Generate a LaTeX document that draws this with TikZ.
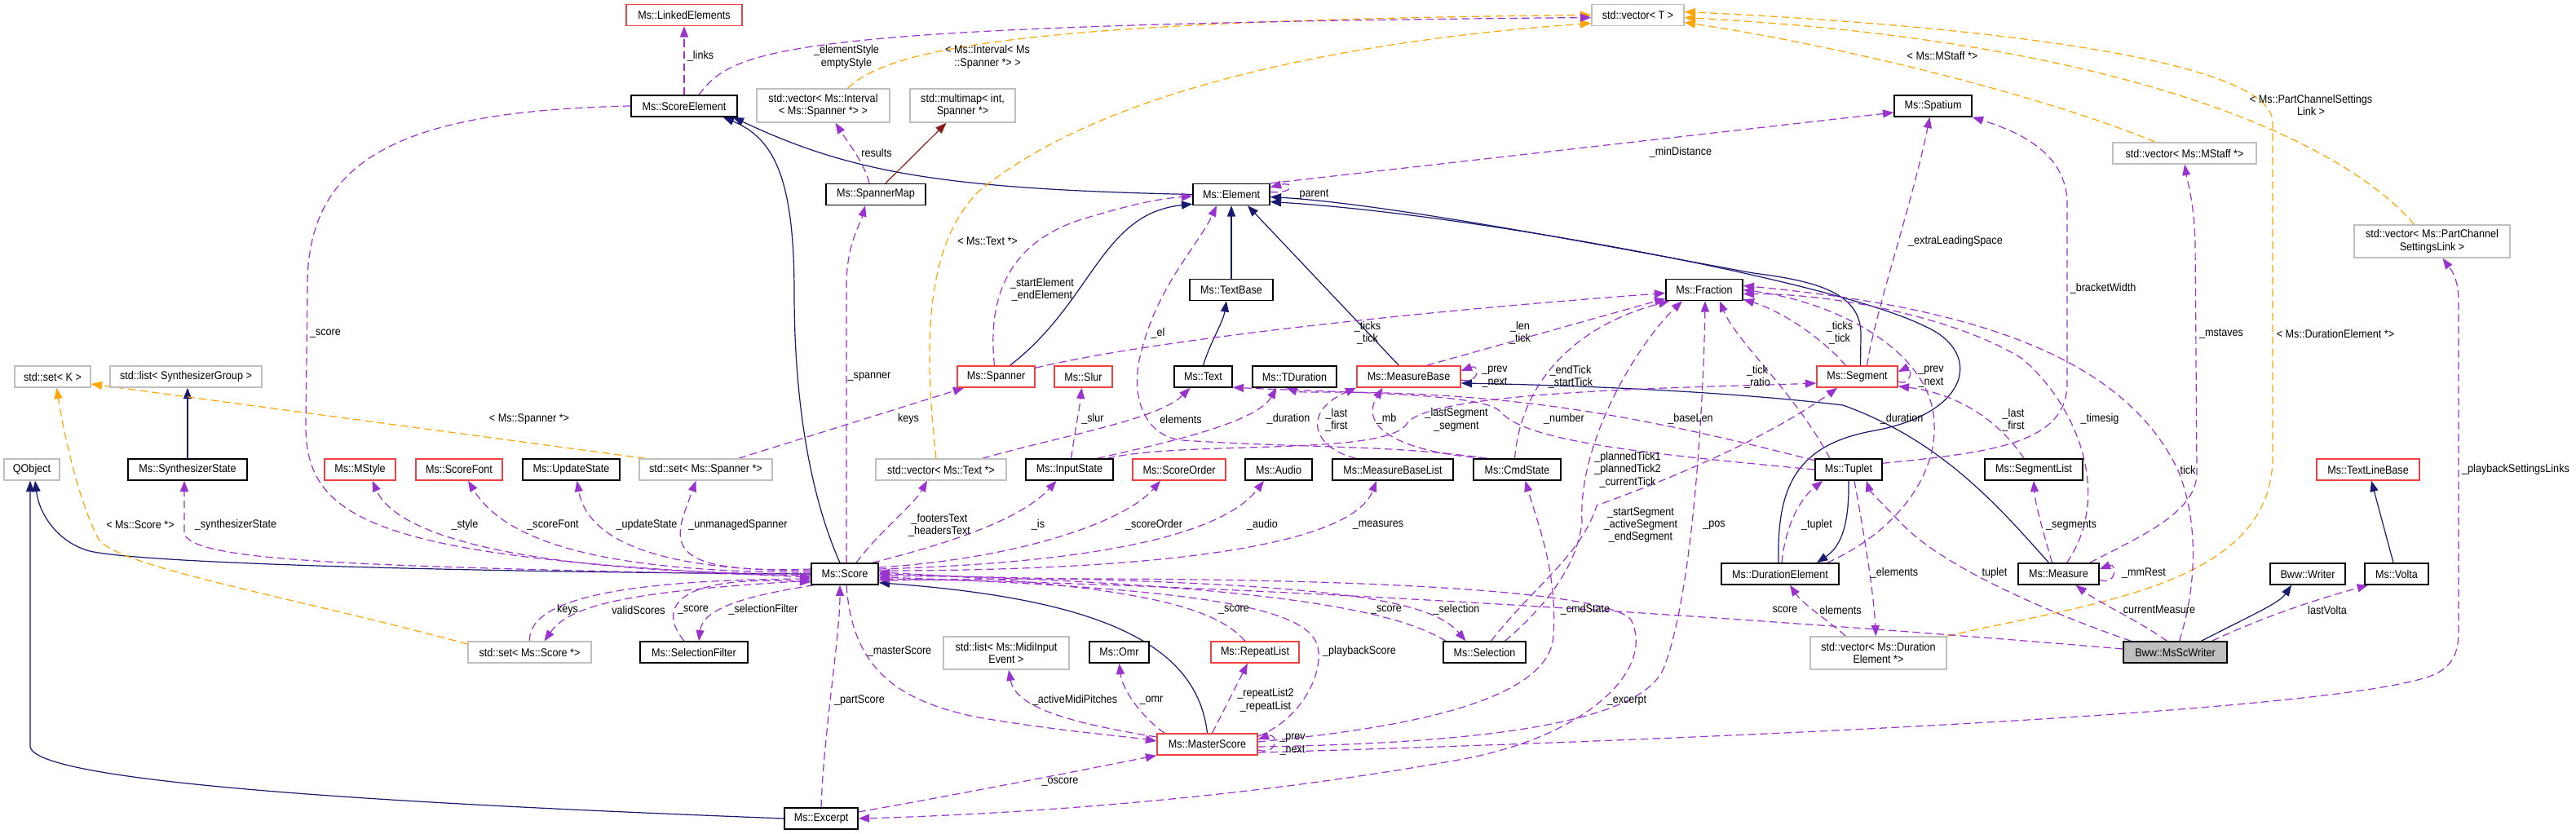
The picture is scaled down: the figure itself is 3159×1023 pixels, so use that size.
\documentclass[tikz,border=0pt]{standalone}
\usepackage{fontspec}
\setmainfont[FakeStretch=0.9]{Liberation Sans}
\usetikzlibrary{arrows.meta,calc}

\definecolor{inhcol}{RGB}{25,25,112}
\definecolor{usecol}{RGB}{154,50,205}
\definecolor{tplcol}{RGB}{255,165,0}
\definecolor{privcol}{RGB}{139,26,26}
\definecolor{redbox}{RGB}{240,64,64}
\definecolor{graybox}{RGB}{191,191,191}

\pgfdeclarelayer{edges}
\pgfsetlayers{edges,main}

\tikzset{every picture/.style={line width=0.75pt}}
\tikzset{
  bw/.style={minimum width=#1},
  cls/.style={draw=black,line width=1.1pt,fill=white,minimum height=19.5pt,inner sep=0pt,align=center,font=\fontsize{10.5}{11.5}\selectfont},
  clsred/.style={cls,draw=redbox},
  clstpl/.style={cls,draw=graybox},
  clsfocus/.style={cls,fill=graybox},
  lbl/.style={inner sep=0pt,align=center,font=\fontsize{10.5}{11.5}\selectfont},
  inh/.style={draw=inhcol,line width=0.9pt,-{Triangle[length=10pt,width=7.5pt]}},
  usage/.style={draw=usecol,line width=0.9pt,dash pattern=on 7pt off 4pt,-{Triangle[length=10pt,width=7.5pt]}},
  tmpl/.style={usage,draw=tplcol},
  privinh/.style={inh,draw=privcol},
}

\begin{document}
\begin{tikzpicture}[x=0.75pt,y=0.75pt,yscale=-1,xscale=1]
%set diagram left start at 0, and has height of 1023
\useasboundingbox (0,0) rectangle (3159,1023);

%Shape: Rectangle [id:classes]
\node[clsred,bw=106.5pt] (linked) at (839,18.5) {Ms::LinkedElements};
\node[clstpl,bw=84.75pt] (vecT) at (2008.5,18.5) {std::vector< T >};
\node[cls,bw=97.5pt] (scoreel) at (839,130) {Ms::ScoreElement};
\node[clstpl,bw=122.25pt,minimum height=30.75pt] (vecint) at (1009.5,129.5) {std::vector< Ms::Interval\\< Ms::Spanner *> >};
\node[clstpl,bw=96.75pt,minimum height=30.75pt] (mmap) at (1180.5,129.5) {std::multimap< int,\\Spanner *>};
\node[cls,bw=71.25pt] (spatium) at (2370.5,130) {Ms::Spatium};
\node[clstpl,bw=132pt] (vecmstaff) at (2679,188) {std::vector< Ms::MStaff *>};
\node[clstpl,bw=143.25pt,minimum height=30pt] (vecpcs) at (2982.5,296) {std::vector< Ms::PartChannel\\SettingsLink >};
\node[cls,bw=91.5pt] (spmap) at (1074,238.5) {Ms::SpannerMap};
\node[cls,bw=70.5pt] (element) at (1510,238.5) {Ms::Element};
\node[cls,bw=76.5pt] (textbase) at (1510,355.5) {Ms::TextBase};
\node[cls,bw=70.5pt] (fraction) at (2090,355.5) {Ms::Fraction};
\node[clstpl,bw=69.75pt] (setK) at (64.5,462) {std::set< K >};
\node[clstpl,bw=139.5pt] (listsg) at (228,462) {std::list< SynthesizerGroup >};
\node[clsred,bw=71.25pt] (spanner) at (1221.5,462) {Ms::Spanner};
\node[clsred,bw=53.25pt] (slur) at (1328.5,462) {Ms::Slur};
\node[cls,bw=53.25pt] (text) at (1475.5,462) {Ms::Text};
\node[cls,bw=77.25pt] (tdur) at (1587.5,462) {Ms::TDuration};
\node[clsred,bw=95.25pt] (mbase) at (1727.5,462) {Ms::MeasureBase};
\node[clsred,bw=74.25pt] (segment) at (2277.5,462) {Ms::Segment};
\node[clstpl,bw=51pt] (qobject) at (39,576) {QObject};
\node[cls,bw=109.5pt] (synth) at (230,576) {Ms::SynthesizerState};
\node[clsred,bw=65.25pt] (mstyle) at (441.5,576) {Ms::MStyle};
\node[clsred,bw=79.5pt] (sfont) at (563,576) {Ms::ScoreFont};
\node[cls,bw=89.25pt] (ustate) at (700.5,576) {Ms::UpdateState};
\node[clstpl,bw=122.25pt] (setsp) at (865.5,576) {std::set< Ms::Spanner *>};
\node[clstpl,bw=120pt] (vectext) at (1154,576) {std::vector< Ms::Text *>};
\node[cls,bw=80.25pt] (istate) at (1311.5,576) {Ms::InputState};
\node[clsred,bw=85.5pt] (sorder) at (1446,576) {Ms::ScoreOrder};
\node[cls,bw=61.5pt] (audio) at (1568,576) {Ms::Audio};
\node[cls,bw=111pt] (mblist) at (1708,576) {Ms::MeasureBaseList};
\node[cls,bw=80.25pt] (cmdstate) at (1860.5,576) {Ms::CmdState};
\node[cls,bw=61.5pt] (tuplet) at (2267,576) {Ms::Tuplet};
\node[cls,bw=90pt] (seglist) at (2494,576) {Ms::SegmentList};
\node[clsred,bw=94.5pt] (tlbase) at (2904,576) {Ms::TextLineBase};
\node[cls,bw=61.5pt] (score) at (1036,704) {Ms::Score};
\node[cls,bw=108pt] (durel) at (2183,704) {Ms::DurationElement};
\node[cls,bw=74.25pt] (measure) at (2524.5,704) {Ms::Measure};
\node[cls,bw=69pt] (writer) at (2830,704) {Bww::Writer};
\node[cls,bw=58.5pt] (volta) at (2939,704) {Ms::Volta};
\node[clstpl,bw=113.25pt] (setscore) at (649.5,800) {std::set< Ms::Score *>};
\node[cls,bw=99pt] (selfilter) at (851,800) {Ms::SelectionFilter};
\node[clstpl,bw=115.5pt,minimum height=30pt] (midilist) at (1234,801) {std::list< Ms::MidiInput\\Event >};
\node[cls,bw=54.75pt] (omr) at (1372.5,800) {Ms::Omr};
\node[clsred,bw=81pt] (replist) at (1539,800) {Ms::RepeatList};
\node[cls,bw=75.75pt] (selection) at (1820.5,800) {Ms::Selection};
\node[clstpl,bw=125.25pt,minimum height=30pt] (vecdurel) at (2303.5,801) {std::vector< Ms::Duration\\Element *>};
\node[clsfocus,bw=95.25pt] (msscw) at (2667.5,800) {Bww::MsScWriter};
\node[clsred,bw=92.25pt] (mscore) at (1480.5,913) {Ms::MasterScore};
\node[cls,bw=67.5pt] (excerpt) at (1007,1004) {Ms::Excerpt};

% Text Node
\node[lbl] (t-links) at (859,69) {\_links};
\node[lbl] (t-elstyle) at (1038,70) {\_elementStyle\\emptyStyle};
\node[lbl] (t-interval) at (1211,70) {< Ms::Interval< Ms\\::Spanner *> >};
\node[lbl] (t-results) at (1075,187) {results};
\node[lbl] (t-mindist) at (2061,187) {\_minDistance};
\node[lbl] (t-parent) at (1608,238) {\_parent};
\node[lbl] (t-mstaffT) at (2382,69) {< Ms::MStaff *>};
\node[lbl] (t-pcsT) at (2834,129) {< Ms::PartChannelSettings\\Link >};
\node[lbl] (t-textT) at (1211,296) {< Ms::Text *>};
\node[lbl] (t-extra) at (2398,296) {\_extraLeadingSpace};
\node[lbl] (t-bracket) at (2579,354) {\_bracketWidth};
\node[lbl] (t-startel) at (1278,355) {\_startElement\\\_endElement};
\node[lbl] (t-score1) at (399,409) {\_score};
\node[lbl] (t-el) at (1420,409) {\_el};
\node[lbl] (t-ticks1) at (1677,408) {\_ticks\\\_tick};
\node[lbl] (t-len) at (1864,408) {\_len\\\_tick};
\node[lbl] (t-ticks2) at (2256,408) {\_ticks\\\_tick};
\node[lbl] (t-mstaves) at (2724,409) {\_mstaves};
\node[lbl] (t-durT) at (2864,409) {< Ms::DurationElement *>};
\node[lbl] (t-spanner) at (1066,462) {\_spanner};
\node[lbl] (t-prev1) at (1833,462) {\_prev\\\_next};
\node[lbl] (t-endtick) at (1926,462) {\_endTick\\\_startTick};
\node[lbl] (t-ratio) at (2155,462) {\_tick\\\_ratio};
\node[lbl] (t-prev2) at (2368,462) {\_prev\\\_next};
\node[lbl] (t-spanT) at (649,514) {< Ms::Spanner *>};
\node[lbl] (t-keys1) at (1114,514) {keys};
\node[lbl] (t-slur) at (1340,514) {\_slur};
\node[lbl] (t-elements1) at (1448,514) {elements};
\node[lbl] (t-duration1) at (1580,514) {\_duration};
\node[lbl] (t-last1) at (1639,515) {\_last\\\_first};
\node[lbl] (t-mb) at (1700,514) {\_mb};
\node[lbl] (t-lastseg) at (1786,515) {\_lastSegment\\\_segment};
\node[lbl] (t-number) at (1918,514) {\_number};
\node[lbl] (t-baselen) at (2073,514) {\_baseLen};
\node[lbl] (t-duration2) at (2332,514) {\_duration};
\node[lbl] (t-last2) at (2469,515) {\_last\\\_first};
\node[lbl] (t-timesig) at (2575,514) {\_timesig};
\node[lbl] (t-planned) at (1996,576) {\_plannedTick1\\\_plannedTick2\\\_currentTick};
\node[lbl] (t-tick) at (2683,576) {tick};
\node[lbl] (t-pbslinks) at (3085,576) {\_playbackSettingsLinks};
\node[lbl] (t-scoreT) at (172,644) {< Ms::Score *>};
\node[lbl] (t-synth) at (289,644) {\_synthesizerState};
\node[lbl] (t-style) at (570,644) {\_style};
\node[lbl] (t-sfont) at (678,644) {\_scoreFont};
\node[lbl] (t-ustate) at (793,644) {\_updateState};
\node[lbl] (t-unmanaged) at (905,644) {\_unmanagedSpanner};
\node[lbl] (t-footers) at (1152,644) {\_footersText\\\_headersText};
\node[lbl] (t-is) at (1273,644) {\_is};
\node[lbl] (t-sorder) at (1415,644) {\_scoreOrder};
\node[lbl] (t-audio) at (1548,644) {\_audio};
\node[lbl] (t-measures) at (1690,644) {\_measures};
\node[lbl] (t-startseg) at (2012,644) {\_startSegment\\\_activeSegment\\\_endSegment};
\node[lbl] (t-pos) at (2102,644) {\_pos};
\node[lbl] (t-tuplet1) at (2228,644) {\_tuplet};
\node[lbl] (t-segments) at (2540,644) {\_segments};
\node[lbl] (t-elements2) at (2323,703) {\_elements};
\node[lbl] (t-tuplet2) at (2446,703) {tuplet};
\node[lbl] (t-mmrest) at (2629,703) {\_mmRest};
\node[lbl] (t-keys2) at (696,748) {keys};
\node[lbl] (t-valid) at (783,748) {validScores};
\node[lbl] (t-score2) at (850,748) {\_score};
\node[lbl] (t-selfilter) at (936,748) {\_selectionFilter};
\node[lbl] (t-score3) at (1513,748) {\_score};
\node[lbl] (t-score4) at (1700,748) {\_score};
\node[lbl] (t-selection) at (1786,748) {\_selection};
\node[lbl] (t-cmdstate) at (1944,748) {\_cmdState};
\node[lbl] (t-score5) at (2189,748) {score};
\node[lbl] (t-elements3) at (2257,748) {elements};
\node[lbl] (t-curmeas) at (2648,748) {currentMeasure};
\node[lbl] (t-lastvolta) at (2854,748) {lastVolta};
\node[lbl] (t-master) at (1103,799) {\_masterScore};
\node[lbl] (t-pbscore) at (1667,799) {\_playbackScore};
\node[lbl] (t-partscore) at (1054,859) {\_partScore};
\node[lbl] (t-midi) at (1318,859) {\_activeMidiPitches};
\node[lbl] (t-omr) at (1412,859) {\_omr};
\node[lbl] (t-replist) at (1552,859) {\_repeatList2\\\_repeatList};
\node[lbl] (t-excerpt) at (1995,859) {\_excerpt};
\node[lbl] (t-prev3) at (1585,913) {\_prev\\\_next};
\node[lbl] (t-oscore) at (1300,959) {\_oscore};

\begin{pgfonlayer}{edges}
\fill[white] (0,0) rectangle (3159,1023);

%Curve Lines: inheritance
\draw[inh] (element.west) .. controls (1150,232) and (1040,210) .. ($(scoreel.south east)+(-6,0)$);
\draw[inh] ($(score.north)+(-6,0)$) .. controls (990,600) and (974,480) .. (974,360) .. controls (974,220) and (950,170) .. ($(scoreel.south east)+(-18,0)$);
\draw[inh] ($(spanner.north)+(17,0)$) .. controls (1340,370) and (1350,262) .. ($(element.south west)+(0,-2)$);
\draw[inh] (textbase.north) -- (element.south);
\draw[inh] ($(mbase.north)+(-12,0)$) -- ($(element.south)+(20,0)$);
\draw[inh] ($(segment.north)+(4,0)$) -- (2282,410) .. controls (2282,360) and (2230,345) .. (2150,335) .. controls (1950,298) and (1700,250) .. ($(element.east)+(0,3)$);
\draw[inh] ($(durel.north)+(-2,0)$) .. controls (2179,600) and (2200,545) .. (2300,528) .. controls (2420,505) and (2430,430) .. (2360,400) .. controls (2250,345) and (1800,262) .. ($(element.east)+(0,9)$);
\draw[inh] ($(measure.north)+(-12,0)$) .. controls (2450,620) and (2380,540) .. (2260,497) .. controls (2100,478) and (1900,472) .. ($(mbase.east)+(0,8)$);
\draw[inh] (tuplet.south) .. controls (2268,650) and (2255,672) .. ($(durel.north)+(45,0)$);
\draw[inh] (score.west) .. controls (600,702) and (180,692) .. (110,676) .. controls (70,665) and (48,630) .. ($(qobject.south)+(4,0)$);
\draw[inh] (excerpt.west) .. controls (600,990) and (37,965) .. (37,915) -- ($(qobject.south)+(-2,0)$);
\draw[inh] (mscore.north) .. controls (1468,790) and (1350,735) .. ($(score.south east)+(0,-3)$);
\draw[inh] (synth.north) -- ($(listsg.south)+(2,0)$);
\draw[inh] (text.north) .. controls (1484,420) and (1500,395) .. ($(textbase.south)+(-6,0)$);
\draw[inh] ($(volta.north)+(-4,0)$) -- ($(tlbase.south)+(4,0)$);
\draw[inh] ($(msscw.north)+(32,0)$) .. controls (2760,755) and (2795,740) .. ($(writer.south)+(-20,0)$);
\draw[privinh] ($(spmap.north)+(12,0)$) -- ($(mmap.south)+(-20,0)$);

%Curve Lines: template instances
\draw[tmpl] ($(vecint.north)+(30,0)$) .. controls (1090,60) and (1250,25) .. (vecT.west);
\draw[tmpl] ($(vectext.north)+(-6,0)$) .. controls (1132,420) and (1135,300) .. (1200,235) .. controls (1350,110) and (1650,50) .. ($(vecT.west)+(0,10)$);
\draw[tmpl] ($(vecmstaff.north)+(-36,0)$) .. controls (2500,115) and (2250,55) .. ($(vecT.east)+(0,9)$);
\draw[tmpl] (vecdurel.north east) .. controls (2560,740) and (2787,720) .. (2787,560) -- (2787,150) .. controls (2787,70) and (2400,30) .. ($(vecT.east)+(0,-4)$);
\draw[tmpl] ($(vecpcs.north)+(-22,0)$) .. controls (2870,170) and (2600,50) .. ($(vecT.east)+(0,3)$);
\draw[tmpl] ($(setsp.north west)+(8,0)$) -- ($(setK.east)+(0,9)$);
\draw[tmpl] ($(setscore.west)+(0,-10)$) .. controls (350,730) and (140,695) .. (120,660) .. controls (95,610) and (78,530) .. ($(setK.south)+(5,0)$);

%Curve Lines: usage
\draw[usage] (scoreel.north) -- (linked.south);
\draw[usage] ($(scoreel.north)+(18,0)$) .. controls (900,60) and (950,30) .. ($(vecT.west)+(0,3)$);
\draw[usage] ($(spmap.north)+(-8,0)$) .. controls (1060,200) and (1040,175) .. ($(vecint.south)+(15,0)$);
\draw[usage] ($(score.north)+(2,0)$) -- (1038,350) .. controls (1038,300) and (1055,275) .. ($(spmap.south)+(-13,0)$);
\draw[usage] (element.north east) -- ($(spatium.west)+(0,8)$);
\draw[usage] ($(element.east)+(0,-3)$) .. controls (1588,238) and (1588,222) .. ($(element.north east)+(0,5)$);
\draw[usage] ($(segment.north)+(12,0)$) .. controls (2300,380) and (2345,250) .. ($(spatium.south)+(-4,0)$);
\draw[usage] ($(tuplet.north east)+(0,6)$) .. controls (2440,555) and (2535,545) .. (2535,470) -- (2535,250) .. controls (2535,185) and (2470,160) .. (spatium.south east);
\draw[usage] ($(spanner.north)+(-2,0)$) .. controls (1210,360) and (1240,295) .. (1330,268) .. controls (1390,250) and (1420,244) .. ($(element.west)+(0,2)$);
\draw[usage] ($(cmdstate.north west)+(18,0)$) .. controls (1700,545) and (1600,550) .. (1450,540) .. controls (1400,535) and (1385,480) .. (1400,430) .. controls (1420,350) and (1470,300) .. ($(element.south)+(-18,0)$);
\draw[usage] ($(vectext.north east)+(-30,0)$) .. controls (1300,535) and (1420,515) .. ($(text.south)+(-16,0)$);
\draw[usage] (tuplet.west) .. controls (2000,555) and (1870,540) .. (1840,505) .. controls (1820,482) and (1650,482) .. (text.-20);
\draw[usage] ($(istate.north east)+(-20,0)$) .. controls (1420,545) and (1540,520) .. ($(tdur.south)+(-22,0)$);
\draw[usage] (tuplet.165) .. controls (2050,520) and (1900,488) .. (1700,482) .. controls (1640,480) and (1595,482) .. ($(tdur.south)+(-10,0)$);
\draw[usage] ($(istate.north)+(2,0)$) .. controls (1318,530) and (1324,500) .. ($(slur.south)+(-2,0)$);
\draw[usage] ($(setsp.north)+(40,0)$) -- ($(spanner.south west)+(9,0)$);
\draw[usage] ($(score.north east)+(-8,0)$) .. controls (1150,670) and (1250,640) .. ($(istate.south)+(-16,0)$);
\draw[usage] ($(score.east)+(0,-8)$) .. controls (1250,685) and (1380,640) .. ($(sorder.south)+(-23,0)$);
\draw[usage] ($(score.east)+(0,-6)$) .. controls (1350,690) and (1500,655) .. ($(audio.south)+(-18,0)$);
\draw[usage] ($(score.east)+(0,-4)$) .. controls (1450,700) and (1660,665) .. ($(mblist.south)+(-20,0)$);
\draw[usage] ($(score.north)+(14,0)$) .. controls (1080,650) and (1120,620) .. ($(vectext.south)+(-17,0)$);
\draw[usage] ($(score.west)+(0,-6)$) .. controls (800,705) and (828,660) .. ($(setsp.south)+(-12,0)$);
\draw[usage] ($(score.west)+(0,-4)$) .. controls (800,700) and (720,660) .. ($(ustate.south)+(7,0)$);
\draw[usage] ($(score.west)+(0,-2)$) .. controls (740,702) and (620,665) .. ($(sfont.south)+(11,0)$);
\draw[usage] (score.west) .. controls (680,704) and (490,665) .. ($(mstyle.south)+(15,0)$);
\draw[usage] ($(score.west)+(0,2)$) .. controls (450,695) and (240,690) .. (226,655) -- ($(synth.south)+(-4,0)$);
\draw[usage] (scoreel.west) .. controls (500,136) and (377,190) .. (377,350) -- (375,520) .. controls (374,640) and (460,685) .. ($(score.west)+(0,4)$);
\draw[usage] (setscore.north) .. controls (648,745) and (720,712) .. ($(score.west)+(0,6)$);
\draw[usage] ($(score.west)+(0,8)$) .. controls (780,725) and (700,740) .. ($(setscore.north)+(18,0)$);
\draw[usage] ($(selfilter.north)+(-12,0)$) .. controls (805,745) and (830,705) .. ($(score.west)+(0,10)$);
\draw[usage] ($(score.south west)+(4,0)$) .. controls (920,730) and (862,745) .. ($(selfilter.north)+(6,0)$);
\draw[usage] (excerpt.north) .. controls (1010,900) and (1030,780) .. ($(score.south)+(-6,0)$);
\draw[usage] ($(score.south)+(2,0)$) .. controls (1045,820) and (1100,860) .. (1200,880) .. controls (1300,897) and (1380,903) .. ($(mscore.west)+(0,-4)$);
\draw[usage] ($(excerpt.east)+(0,-8)$) .. controls (1200,970) and (1350,940) .. (mscore.south west);
\draw[usage] ($(score.east)+(0,8)$) .. controls (1500,705) and (1960,715) .. (2000,760) .. controls (2030,820) and (1950,900) .. (1800,930) .. controls (1500,985) and (1200,1000) .. (excerpt.east);
\draw[usage] ($(mscore.west)+(0,-9)$) .. controls (1300,885) and (1245,865) .. ($(midilist.south)+(3,0)$);
\draw[usage] ($(mscore.north west)+(10,0)$) .. controls (1400,880) and (1376,845) .. (omr.south);
\draw[usage] ($(mscore.north)+(6,0)$) -- ($(replist.south)+(-9,0)$);
\draw[usage] ($(replist.north)+(-12,0)$) .. controls (1490,745) and (1400,718) .. ($(score.east)+(0,-2)$);
\draw[usage] ($(mscore.east)+(0,7)$) .. controls (1568,927) and (1568,898) .. ($(mscore.east)+(0,-6)$);
\draw[usage] ($(selection.north west)+(4,0)$) .. controls (1720,755) and (1600,718) .. (score.east);
\draw[usage] ($(score.east)+(0,2)$) .. controls (1600,712) and (1750,730) .. ($(selection.north)+(-23,0)$);
\draw[usage] ($(mscore.east)+(0,-3)$) .. controls (1700,895) and (1900,865) .. (1905,780) .. controls (1910,700) and (1885,640) .. ($(cmdstate.south)+(10,0)$);
\draw[usage] ($(mscore.north east)+(0,4)$) .. controls (1600,880) and (1625,820) .. (1615,790) .. controls (1600,750) and (1500,722) .. ($(score.east)+(0,4)$);
\draw[usage] ($(mscore.east)+(0,3)$) .. controls (1800,912) and (2010,890) .. (2040,820) .. controls (2080,720) and (2090,450) .. ($(fraction.south)+(1,0)$);
\draw[usage] ($(selection.north)+(8,0)$) .. controls (1880,720) and (1940,680) .. (1958,620) .. controls (2000,605) and (2150,550) .. ($(segment.south west)+(26,0)$);
\draw[usage] ($(selection.north)+(25,0)$) .. controls (1900,740) and (1935,690) .. (1940,640) .. controls (1935,540) and (2010,420) .. ($(fraction.south)+(-27,0)$);
\draw[usage] ($(mbase.east)+(0,4)$) .. controls (1815,472) and (1815,446) .. ($(mbase.east)+(0,-7)$);
\draw[usage] ($(mbase.north)+(22,0)$) -- ($(fraction.south west)+(0,-3)$);
\draw[usage] ($(spanner.north east)+(0,3)$) .. controls (1400,420) and (1700,385) .. ($(fraction.west)+(0,4)$);
\draw[usage] ($(segment.north)+(-14,0)$) .. controls (2230,410) and (2180,380) .. ($(fraction.south east)+(0,-2)$);
\draw[usage] ($(cmdstate.north)+(-3,0)$) .. controls (1865,470) and (1930,400) .. ($(fraction.south west)+(5,0)$);
\draw[usage] ($(cmdstate.north west)+(15,0)$) .. controls (1720,555) and (1665,525) .. ($(mbase.south)+(-32,0)$);
\draw[usage] ($(mblist.north)+(-45,0)$) .. controls (1610,550) and (1595,505) .. (mbase.south west);
\draw[usage] ($(istate.north east)+(-8,0)$) .. controls (1450,540) and (1700,560) .. (1725,520) .. controls (1750,478) and (2100,475) .. ($(segment.west)+(0,8)$);
\draw[usage] ($(segment.east)+(0,6)$) .. controls (2345,475) and (2345,448) .. ($(segment.east)+(0,-6)$);
\draw[usage] ($(tuplet.north)+(-23,0)$) .. controls (2200,480) and (2130,420) .. ($(fraction.south east)+(-29,0)$);
\draw[usage] ($(durel.north east)+(-15,0)$) .. controls (2330,650) and (2375,580) .. (2372,520) .. controls (2370,430) and (2250,370) .. (fraction.east);
\draw[usage] ($(durel.north)+(2,0)$) .. controls (2190,640) and (2210,610) .. ($(tuplet.south west)+(10,0)$);
\draw[usage] ($(tuplet.south)+(7,0)$) .. controls (2285,650) and (2297,720) .. ($(vecdurel.north)+(-3,0)$);
\draw[usage] ($(vecdurel.north)+(-40,0)$) .. controls (2240,760) and (2210,740) .. ($(durel.south)+(12,0)$);
\draw[usage] ($(msscw.west)+(0,-4)$) .. controls (2300,770) and (1600,718) .. ($(score.east)+(0,6)$);
\draw[usage] ($(msscw.north)+(-10,0)$) .. controls (2620,760) and (2575,740) .. ($(measure.south)+(21,0)$);
\draw[usage] ($(msscw.north)+(45,0)$) .. controls (2790,750) and (2860,730) .. ($(volta.south)+(-35,0)$);
\draw[usage] ($(msscw.north west)+(10,0)$) .. controls (2480,740) and (2370,685) .. (2330,640) .. controls (2300,610) and (2292,600) .. ($(tuplet.south east)+(-20,0)$);
\draw[usage] ($(msscw.north)+(5,0)$) .. controls (2700,700) and (2690,620) .. (2670,575) .. controls (2600,430) and (2400,375) .. ($(fraction.east)+(0,-5)$);
\draw[usage] ($(measure.north)+(-8,0)$) .. controls (2505,650) and (2496,620) .. (seglist.south);
\draw[usage] ($(seglist.north)+(-12,0)$) .. controls (2440,500) and (2380,480) .. ($(segment.south east)+(0,-2)$);
\draw[usage] ($(measure.north)+(10,0)$) .. controls (2590,610) and (2550,500) .. (2480,440) .. controls (2400,390) and (2250,360) .. ($(fraction.east)+(0,5)$);
\draw[usage] ($(measure.north east)+(-12,0)$) .. controls (2620,660) and (2694,630) .. (2694,580) -- (2692,300) .. controls (2691,250) and (2683,225) .. (vecmstaff.south);
\draw[usage] ($(measure.east)+(0,7)$) .. controls (2596,720) and (2596,690) .. ($(measure.east)+(0,-6)$);
\draw[usage] ($(mscore.east)+(0,10)$) .. controls (2000,910) and (2900,875) .. (2990,825) .. controls (3012,812) and (3015,795) .. (3015,770) -- (3015,370) .. controls (3015,340) and (3005,330) .. ($(vecpcs.south)+(13,0)$);
\end{pgfonlayer}

\end{tikzpicture}
\end{document}
